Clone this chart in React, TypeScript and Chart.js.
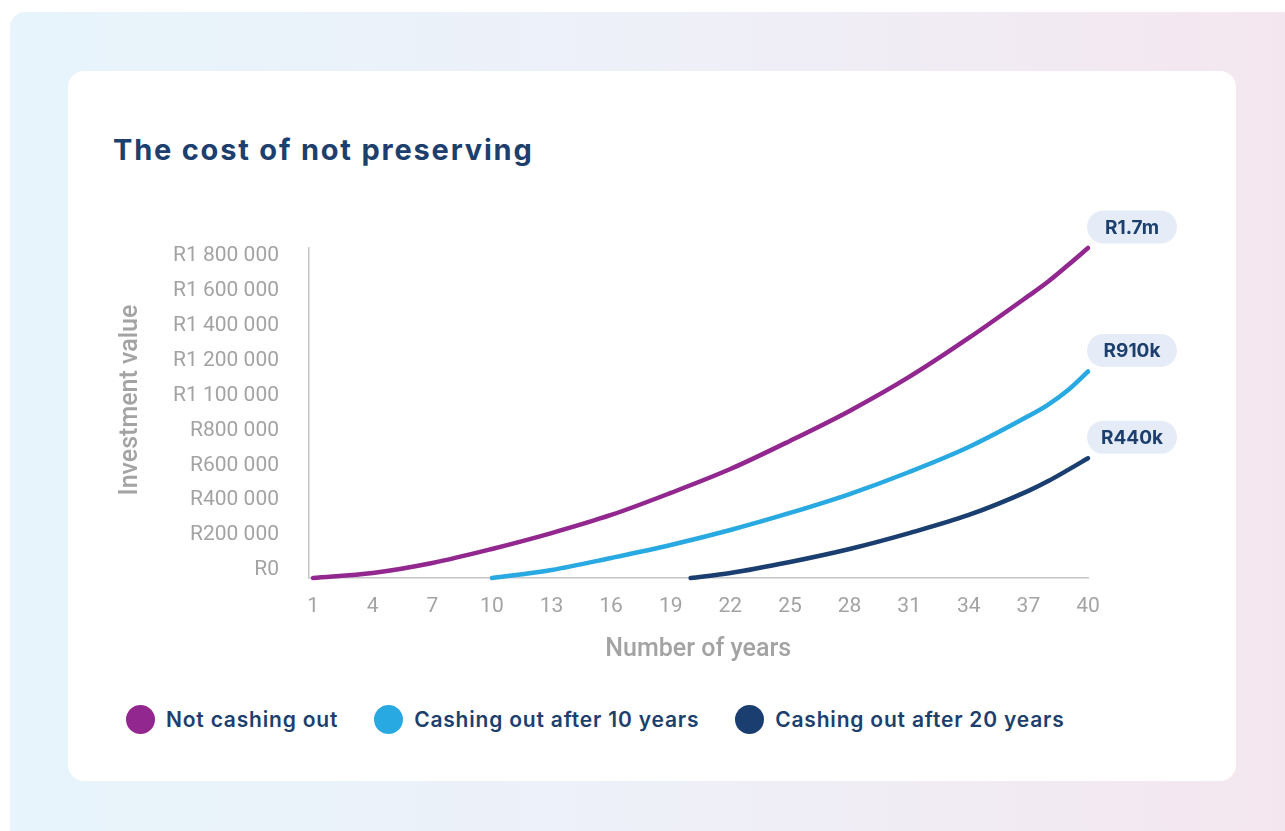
import { useEffect, useRef } from 'react';
import { Chart, registerables, LinearScale } from 'chart.js';

Chart.register(...registerables);

// Value axis that compresses larger values (power curve) so the three series stay readable.
const VALUE_EXPONENT = 0.75;

class PowerScale extends LinearScale {
  static id = 'power';
  static defaults = LinearScale.defaults;
  getPixelForValue(value: number) {
    const span = this.max - this.min || 1;
    const t = Math.max(0, (value - this.min) / span);
    return this.getPixelForDecimal(Math.pow(t, VALUE_EXPONENT));
  }
  getValueForPixel(pixel: number) {
    const d = Math.max(0, this.getDecimalForPixel(pixel));
    return this.min + Math.pow(d, 1 / VALUE_EXPONENT) * (this.max - this.min);
  }
}
Chart.register(PowerScale);

// ---- data ----
const yearsFull = [1, 4, 7, 10, 13, 16, 19, 22, 25, 28, 31, 34, 37, 38, 39, 40];
const notCashingOut = [0, 6400, 27600, 66500, 119000, 187000, 279000, 388000, 527000, 686000, 878000, 1112000, 1379000, 1474000, 1584000, 1700000];

const yearsFrom10 = [10, 13, 16, 19, 22, 25, 28, 31, 34, 37, 38, 39, 40];
const cashingOutAfter10 = [0, 11900, 40500, 78900, 130000, 195000, 274000, 374000, 496000, 658000, 721000, 803000, 910000];

const yearsFrom20 = [20, 22, 25, 28, 31, 34, 37, 38, 39, 40];
const cashingOutAfter20 = [0, 6400, 30100, 66500, 119000, 187000, 288000, 332000, 384000, 440000];

const seriesNames = ['Not cashing out', 'Cashing out after 10 years', 'Cashing out after 20 years'];
const seriesColors = ['#92278f', '#29a9e1', '#1b3e70'];
const endLabels = ['R1.7m', 'R910k', 'R440k'];

const yearTicks = [1, 4, 7, 10, 13, 16, 19, 22, 25, 28, 31, 34, 37, 40];
const valueTicks = [0, 200000, 400000, 600000, 800000, 1000000, 1200000, 1400000, 1600000, 1800000];
const valueTickLabels = ['R0', 'R200 000', 'R400 000', 'R600 000', 'R800 000', 'R1 100 000', 'R1 200 000', 'R1 400 000', 'R1 600 000', 'R1 800 000'];

const yAxisTitle = 'Investment value';
const xAxisTitle = 'Number of years';

const NAVY = '#1d3f6e';
const AXIS_GREY = '#a3a3a3';
const HEADING_FONT = 'Inter, "Noto Sans", sans-serif';

const toPoints = (xs: number[], ys: number[]) => xs.map((x, i) => ({ x, y: ys[i] }));

// Rounded value badges at the end of each line
const endBadgePlugin = {
  id: 'endBadges',
  afterDatasetsDraw(chart: any) {
    const ctx = chart.ctx;
    chart.data.datasets.forEach((_ds: any, i: number) => {
      const meta = chart.getDatasetMeta(i);
      const last = meta.data[meta.data.length - 1];
      if (!last) return;
      const w = 90;
      const h = 33;
      const left = last.x - 1;
      const cy = last.y - 21;
      ctx.save();
      ctx.fillStyle = '#e5ebf7';
      ctx.beginPath();
      ctx.roundRect(left, cy - h / 2, w, h, h / 2);
      ctx.fill();
      ctx.fillStyle = NAVY;
      ctx.font = `700 19px ${HEADING_FONT}`;
      ctx.textAlign = 'center';
      ctx.textBaseline = 'middle';
      ctx.fillText(endLabels[i], left + w / 2, cy + 1);
      ctx.restore();
    });
  },
};

// Rotated value-axis title, sitting a little above the middle of the plot
const valueTitlePlugin = {
  id: 'valueTitle',
  afterDraw(chart: any) {
    const scale = chart.scales.yLabels;
    const ctx = chart.ctx;
    const cy = (scale.top + scale.bottom) / 2 - 13;
    ctx.save();
    ctx.translate(scale.left + 31, cy);
    ctx.rotate(-Math.PI / 2);
    ctx.fillStyle = AXIS_GREY;
    ctx.font = '500 25px Roboto';
    ctx.textAlign = 'center';
    ctx.textBaseline = 'middle';
    ctx.fillText(yAxisTitle, 0, 0);
    ctx.restore();
  },
};

function GrowthChart() {
  const canvasRef = useRef<HTMLCanvasElement | null>(null);

  useEffect(() => {
    if (!canvasRef.current) return;
    const series = [
      toPoints(yearsFull, notCashingOut),
      toPoints(yearsFrom10, cashingOutAfter10),
      toPoints(yearsFrom20, cashingOutAfter20),
    ];
    const chart = new Chart(canvasRef.current, {
      type: 'line',
      data: {
        datasets: series.map((data, i) => ({
          label: seriesNames[i],
          data,
          borderColor: seriesColors[i],
          backgroundColor: seriesColors[i],
          borderWidth: 4.5,
          borderCapStyle: 'round',
          pointRadius: 0,
          cubicInterpolationMode: 'monotone',
          clip: false,
          yAxisID: 'y',
        })),
      },
      options: {
        animation: false,
        responsive: true,
        maintainAspectRatio: false,
        layout: { padding: { left: 0, right: 148, top: 48, bottom: 0 } },
        plugins: {
          legend: { display: false },
          tooltip: { enabled: false },
        },
        scales: {
          x: {
            type: 'linear',
            min: 0.77,
            max: 40,
            afterBuildTicks: (scale: any) => {
              scale.ticks = yearTicks.map((value) => ({ value }));
            },
            afterFit: (scale: any) => {
              scale.height = 102;
            },
            ticks: {
              color: AXIS_GREY,
              font: { family: 'Roboto', size: 21 },
              padding: 16.5,
              maxRotation: 0,
              autoSkip: false,
              callback: (value: any) => String(value),
            },
            grid: { display: false, drawTicks: false },
            border: { display: true, color: '#c6c6c6', width: 1.5 },
            title: {
              display: true,
              text: xAxisTitle,
              color: AXIS_GREY,
              font: { family: 'Roboto', size: 25, weight: '500' },
              padding: { top: 0, bottom: 15 },
            },
          },
          yLabels: {
            type: 'linear',
            position: 'left',
            min: -46000,
            max: 1846000,
            afterBuildTicks: (scale: any) => {
              scale.ticks = valueTicks.map((value) => ({ value }));
            },
            afterFit: (scale: any) => {
              scale.width = 208.5;
            },
            ticks: {
              color: AXIS_GREY,
              font: { family: 'Roboto', size: 21 },
              padding: 29.5,
              autoSkip: false,
              callback: (_value: any, index: number) => valueTickLabels[index],
            },
            grid: { display: false, drawTicks: false },
            border: { display: true, color: '#c6c6c6', width: 1.5 },
          },
          y: {
            type: 'power',
            display: false,
            min: 0,
            max: 1700000,
          },
        },
      } as any,
      plugins: [endBadgePlugin, valueTitlePlugin],
    });
    return () => chart.destroy();
  }, []);

  return <canvas ref={canvasRef} />;
}

export default function App() {
  return (
    <div
      style={{
        position: 'absolute',
        left: 0,
        top: 0,
        width: 1285,
        height: 831,
        background: '#ffffff',
        overflow: 'hidden',
      }}
    >
      <div
        style={{
          position: 'absolute',
          left: 10,
          top: 12,
          width: 1295,
          height: 840,
          borderTopLeftRadius: 15,
          background: 'linear-gradient(90deg, #e7f4fb 0%, #eef0f8 50%, #f4e6ef 100%)',
        }}
      />
      <div
        style={{
          position: 'absolute',
          left: 68,
          top: 71,
          width: 1168,
          height: 710,
          borderRadius: 16,
          background: '#ffffff',
        }}
      />
      <div
        style={{
          position: 'absolute',
          left: 113,
          top: 135,
          lineHeight: '29px',
          fontFamily: HEADING_FONT,
          fontWeight: 700,
          fontSize: 29,
          letterSpacing: 1.8,
          color: NAVY,
          whiteSpace: 'nowrap',
        }}
      >
        The cost of not preserving
      </div>
      <div style={{ position: 'absolute', left: 100, top: 200, width: 1136, height: 480 }}>
        <GrowthChart />
      </div>
      <div
        style={{
          position: 'absolute',
          left: 126,
          top: 704,
          height: 30,
          display: 'flex',
          alignItems: 'center',
          gap: 36,
          fontFamily: HEADING_FONT,
          fontWeight: 600,
          fontSize: 21,
          letterSpacing: 0.8,
          color: NAVY,
          whiteSpace: 'nowrap',
        }}
      >
        {seriesNames.map((name, i) => (
          <div key={name} style={{ display: 'flex', alignItems: 'center', gap: 11 }}>
            <span
              style={{
                display: 'inline-block',
                width: 29,
                height: 29,
                borderRadius: '50%',
                background: seriesColors[i],
              }}
            />
            <span>{name}</span>
          </div>
        ))}
      </div>
    </div>
  );
}
